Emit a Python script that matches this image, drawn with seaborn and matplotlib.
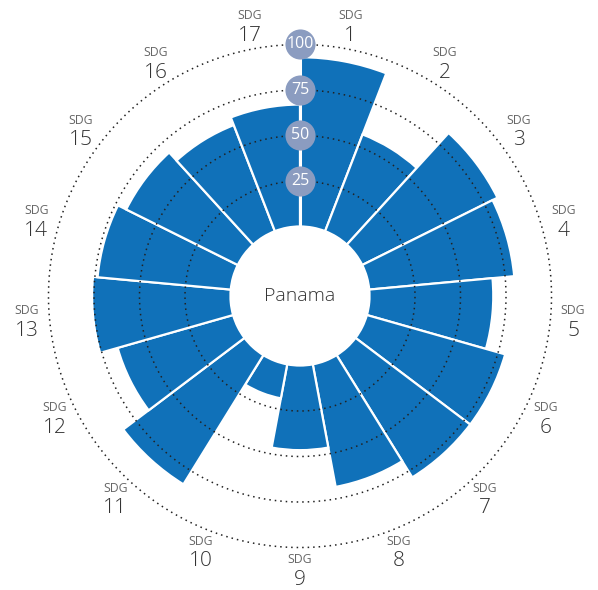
import numpy as np
import matplotlib
matplotlib.use('Agg')
import matplotlib.pyplot as plt
import seaborn as sns

sns.set_theme(style="white")
plt.rcParams['font.family'] = ['Open Sans', 'DejaVu Sans']

BLUE = '#1071B9'
BADGE = '#8B9CC0'
DARK = '#333333'
GRAY = '#666666'

goals = [f'{i}' for i in range(1, 18)]
scores = [93, 57, 83, 80, 68, 79, 79, 68.5, 46.5, 19, 83.5, 66, 76, 73.5, 68.5, 62.5, 67]
rings = [25, 50, 75, 100]
country = 'Panama'

R0 = -38.2      # value at the centre (makes the hole)
RMAX = 125
LABEL_R = 112.5

fig = plt.figure(figsize=(5.98, 5.90), dpi=100)
R_px = 1.82 * (RMAX - R0)
cx, cy = 300, 590 - 296
ax = fig.add_axes([(cx - R_px) / 598, (cy - R_px) / 590, 2 * R_px / 598, 2 * R_px / 590],
                  projection='polar')
ax.set_theta_zero_location('N')
ax.set_theta_direction(-1)
ax.set_ylim(R0, RMAX)

n = len(scores)
width = 2 * np.pi / n
theta = (np.arange(n) + 0.5) * width

ax.bar(theta, scores, width=width, bottom=0, color=BLUE,
       edgecolor='white', linewidth=1.6, zorder=2)

# dotted reference circles
t = np.linspace(0, 2 * np.pi, 721)
for r in rings:
    ax.plot(t, np.full_like(t, r), color='#222222', lw=1.1,
            linestyle=(0, (1, 2.6)), zorder=3)

# white axis line with value badges
ax.plot([0, 0], [0, 100], color='white', lw=2.2, zorder=4)
ax.scatter([0] * len(rings), rings, s=470, color=BADGE, zorder=5, linewidths=0)
for r in rings:
    ax.text(0, r, str(r), ha='center', va='center', color='white',
            fontsize=11.5, zorder=6)

# SDG labels
for th, g in zip(theta, goals):
    ax.annotate('SDG', (th, LABEL_R), xytext=(0, 7.5), textcoords='offset points',
                ha='center', va='center', fontsize=8.8, color=GRAY,
                annotation_clip=False)
    ax.annotate(g, (th, LABEL_R), xytext=(0, -7), textcoords='offset points',
                ha='center', va='center', fontsize=15, color=DARK,
                fontweight='light', annotation_clip=False)

ax.text(0, R0, country, ha='center', va='center', fontsize=14, color=DARK,
        fontweight='light', zorder=6)

ax.set_xticks([])
ax.set_yticks([])
ax.grid(False)
ax.spines['polar'].set_visible(False)
ax.set_facecolor('white')

fig.savefig('out.png', dpi=100, facecolor='white')
